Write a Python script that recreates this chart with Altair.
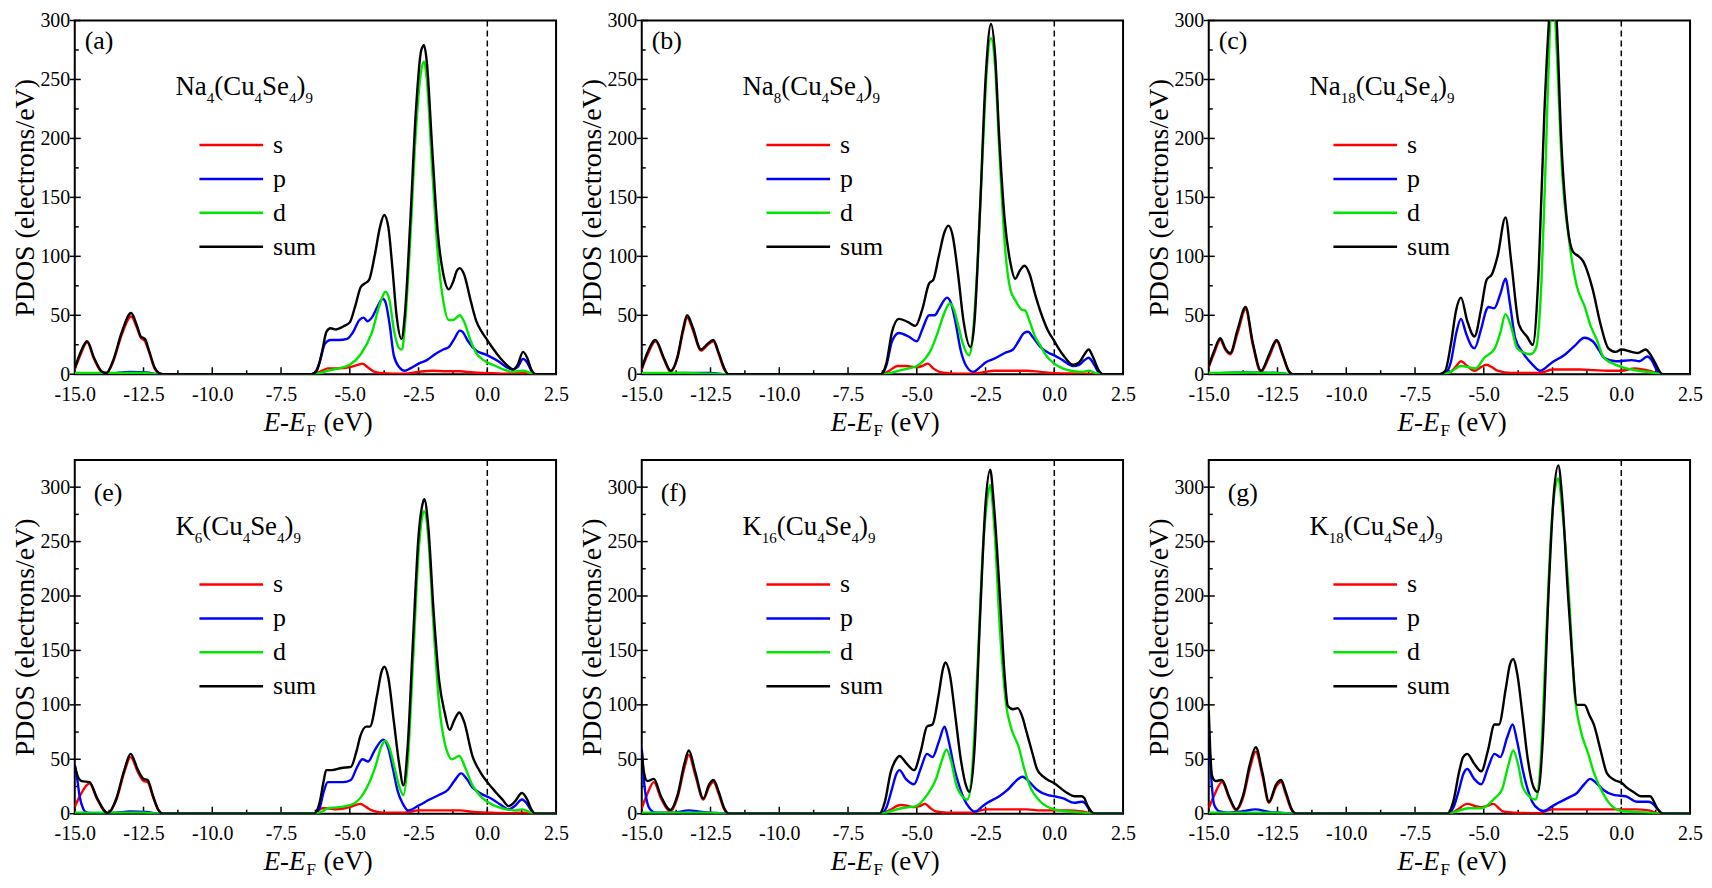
import altair as alt
import pandas as pd

FONT = "Liberation Serif"
ORBITALS = ["s", "p", "d", "sum"]
COLORS = ["#ff0000", "#0000ff", "#00e600", "#000000"]
X_TICKS = [-15.0, -12.5, -10.0, -7.5, -5.0, -2.5, 0.0, 2.5]
X_MINOR = [-13.75, -11.25, -8.75, -6.25, -3.75, -1.25, 1.25]
Y_TICKS = [0, 50, 100, 150, 200, 250, 300]
Y_MINOR = [25, 75, 125, 175, 225, 275]
Y_MAX_TOP = 300
Y_MAX_BOTTOM = 325
LABELS = ["(a)", "(b)", "(c)", "(e)", "(f)", "(g)"]
FORMULAS = [
    [("Na", "4"), ("(Cu", "4"), ("Se", "4"), (")", "9")],
    [("Na", "8"), ("(Cu", "4"), ("Se", "4"), (")", "9")],
    [("Na", "18"), ("(Cu", "4"), ("Se", "4"), (")", "9")],
    [("K", "6"), ("(Cu", "4"), ("Se", "4"), (")", "9")],
    [("K", "16"), ("(Cu", "4"), ("Se", "4"), (")", "9")],
    [("K", "18"), ("(Cu", "4"), ("Se", "4"), (")", "9")],
]

# ---------------- panel (a) Na4(Cu4Se4)9 ----------------
A_S = [(-15, 4), (-14.8, 16), (-14.55, 27), (-14.3, 13), (-14.0, 1.5), (-13.85, 1), (-13.6, 11), (-13.3, 33),
       (-12.95, 49), (-12.75, 40), (-12.6, 31), (-12.45, 28), (-12.3, 19), (-12.1, 5), (-11.9, 0.5), (-11.8, 0),
       (-6.4, 0), (-6.2, 1), (-6.0, 3), (-5.8, 5), (-5.4, 5), (-5.0, 6), (-4.7, 8), (-4.55, 9), (-4.35, 6),
       (-4.1, 2), (-3.8, 1), (-3.0, 0.5), (-2.5, 2), (-2.0, 3), (-1.5, 2.5), (-1.0, 2.5), (-0.5, 1.5), (0.0, 1),
       (0.5, 0.5), (1.3, 1), (1.7, 0), (2.5, 0)]
A_P = [(-15, 0.5), (-13.8, 0.5), (-13.0, 2), (-12.4, 1.5), (-11.9, 0), (-6.4, 0), (-6.3, 0.5), (-6.1, 10),
       (-5.9, 26), (-5.7, 29), (-5.4, 29), (-5.1, 30), (-4.9, 35), (-4.65, 46), (-4.5, 48), (-4.35, 45),
       (-4.2, 48), (-4.0, 57), (-3.8, 64), (-3.7, 61), (-3.55, 42), (-3.4, 16), (-3.2, 6), (-3.0, 3), (-2.8, 5),
       (-2.5, 9), (-2.2, 12), (-1.9, 17), (-1.6, 21), (-1.4, 23), (-1.2, 30), (-1.0, 37), (-0.9, 36), (-0.7, 28),
       (-0.4, 20), (-0.1, 17), (0.1, 15), (0.4, 11), (0.7, 6), (0.9, 4), (1.1, 6), (1.3, 13), (1.45, 10),
       (1.6, 3), (1.75, 0), (2.5, 0)]
A_D = [(-15, 1), (-13.5, 1), (-12.5, 1), (-11.9, 0), (-6.3, 0), (-6.0, 1.5), (-5.8, 3), (-5.4, 5), (-5.0, 8),
       (-4.6, 17), (-4.2, 35), (-3.9, 60), (-3.7, 70), (-3.55, 62), (-3.4, 38), (-3.2, 22), (-3.1, 21),
       (-3.0, 40), (-2.8, 115), (-2.6, 205), (-2.4, 258), (-2.3, 265), (-2.2, 250), (-2.0, 172), (-1.8, 102),
       (-1.6, 62), (-1.4, 46), (-1.25, 46), (-1.0, 50), (-0.85, 45), (-0.6, 28), (-0.4, 18), (-0.2, 13),
       (0.0, 10), (0.3, 7), (0.6, 4), (0.9, 2), (1.3, 3), (1.6, 1), (1.8, 0), (2.5, 0)]
A_T = [(-15, 5), (-14.8, 18), (-14.55, 28), (-14.3, 14), (-14.0, 2), (-13.85, 1), (-13.6, 12), (-13.3, 35),
       (-12.95, 52), (-12.75, 42), (-12.6, 32), (-12.45, 30), (-12.3, 20), (-12.1, 6), (-11.9, 0.5), (-11.8, 0),
       (-6.4, 0), (-6.2, 3), (-6.0, 20), (-5.85, 36), (-5.7, 39), (-5.5, 38), (-5.2, 41), (-5.0, 44), (-4.8, 58),
       (-4.6, 74), (-4.45, 77), (-4.3, 80), (-4.1, 100), (-3.9, 125), (-3.75, 135), (-3.6, 125), (-3.45, 90),
       (-3.3, 50), (-3.12, 30), (-3.0, 50), (-2.8, 130), (-2.6, 222), (-2.4, 275), (-2.3, 279), (-2.2, 265),
       (-2.0, 190), (-1.8, 120), (-1.6, 85), (-1.4, 72), (-1.25, 78), (-1.1, 88), (-1.0, 90), (-0.85, 85),
       (-0.6, 62), (-0.4, 45), (-0.2, 36), (0.0, 29), (0.2, 22), (0.5, 13), (0.8, 6), (0.95, 4), (1.1, 8),
       (1.3, 19), (1.45, 14), (1.6, 4), (1.75, 0), (2.5, 0)]

# ---------------- panel (b) Na8(Cu4Se4)9 ----------------
B_S = [(-15, 4), (-14.8, 16), (-14.5, 28), (-14.2, 13), (-13.95, 2), (-13.7, 14), (-13.5, 36), (-13.35, 48),
       (-13.15, 38), (-12.85, 20), (-12.6, 25), (-12.4, 28), (-12.2, 17), (-12.0, 4), (-11.85, 0), (-6.3, 0),
       (-6.0, 3), (-5.7, 7), (-5.4, 7), (-5.0, 6), (-4.8, 7), (-4.6, 9), (-4.4, 5), (-4.1, 1.5), (-3.5, 0.5),
       (-3.0, 0.5), (-2.5, 2), (-2.2, 3), (-1.5, 3), (-1.0, 3), (-0.5, 2), (0.0, 1), (1.0, 0.5), (1.6, 0),
       (2.5, 0)]
B_P = [(-15, 0.5), (-13.5, 1), (-12.5, 1), (-11.9, 0), (-6.3, 0), (-6.1, 8), (-5.9, 28), (-5.65, 35),
       (-5.3, 32), (-5.0, 28), (-4.8, 38), (-4.55, 50), (-4.35, 50), (-4.2, 55), (-4.0, 63), (-3.9, 65),
       (-3.75, 60), (-3.6, 45), (-3.4, 20), (-3.2, 7), (-2.95, 2), (-2.7, 6), (-2.5, 10), (-2.2, 13), (-1.8, 18),
       (-1.5, 21), (-1.3, 28), (-1.1, 35), (-0.95, 36), (-0.8, 32), (-0.5, 23), (-0.2, 18), (0.0, 16), (0.3, 12),
       (0.69, 7), (0.9, 8), (1.1, 12), (1.25, 14), (1.4, 10), (1.6, 2), (1.75, 0), (2.5, 0)]
B_D = [(-15, 1), (-13.5, 1), (-12.5, 0.5), (-11.9, 0), (-6.3, 0), (-6.0, 1), (-5.65, 3), (-5.3, 5), (-5.0, 7),
       (-4.7, 13), (-4.5, 20), (-4.2, 38), (-4.0, 52), (-3.8, 60), (-3.65, 55), (-3.5, 42), (-3.3, 24),
       (-3.1, 16), (-3.0, 25), (-2.8, 90), (-2.6, 190), (-2.45, 260), (-2.3, 285), (-2.15, 260), (-2.0, 190),
       (-1.8, 110), (-1.6, 72), (-1.4, 62), (-1.2, 55), (-1.06, 54), (-0.9, 45), (-0.7, 32), (-0.5, 24),
       (-0.3, 16), (0.0, 9), (0.3, 5), (0.6, 3), (1.0, 2), (1.25, 3), (1.5, 1), (1.7, 0), (2.5, 0)]
B_T = [(-15, 5), (-14.8, 18), (-14.5, 29), (-14.2, 14), (-13.95, 3), (-13.7, 15), (-13.5, 38), (-13.35, 50),
       (-13.15, 40), (-12.85, 21), (-12.6, 26), (-12.4, 29), (-12.2, 18), (-12.0, 5), (-11.85, 0), (-6.3, 0),
       (-6.1, 10), (-5.9, 36), (-5.65, 47), (-5.3, 44), (-5.05, 41), (-4.8, 55), (-4.55, 77), (-4.4, 80),
       (-4.2, 100), (-4.0, 120), (-3.85, 126), (-3.7, 118), (-3.5, 85), (-3.3, 45), (-3.05, 23), (-2.9, 45),
       (-2.7, 140), (-2.5, 250), (-2.3, 297), (-2.15, 270), (-2.0, 200), (-1.8, 130), (-1.6, 95), (-1.42, 81),
       (-1.25, 88), (-1.08, 92), (-0.9, 85), (-0.7, 68), (-0.5, 53), (-0.25, 38), (0.0, 28), (0.3, 17),
       (0.69, 8), (0.9, 10), (1.1, 17), (1.25, 21), (1.4, 15), (1.6, 4), (1.77, 0), (2.5, 0)]

# ---------------- panel (c) Na18(Cu4Se4)9 ----------------
C_S = [(-15, 6), (-14.8, 18), (-14.58, 29), (-14.4, 21), (-14.22, 17), (-13.95, 35), (-13.66, 55), (-13.4, 25),
       (-13.1, 2), (-12.8, 15), (-12.53, 28), (-12.3, 15), (-12.1, 3), (-11.95, 0), (-6.6, 0), (-6.2, 2),
       (-6.0, 7), (-5.83, 11), (-5.6, 7), (-5.34, 3), (-5.1, 6), (-4.9, 8), (-4.7, 6), (-4.5, 3), (-4.0, 1),
       (-3.0, 1), (-2.5, 4), (-2.0, 4), (-1.5, 4), (-1.0, 3.5), (-0.5, 3), (0.0, 3), (0.5, 5), (1.0, 3),
       (1.5, 0), (2.5, 0)]
C_P = [(-15, 0.5), (-13.6, 1.5), (-12.5, 1), (-11.95, 0), (-6.6, 0), (-6.4, 1), (-6.2, 10), (-6.0, 35),
       (-5.83, 47), (-5.65, 35), (-5.45, 24), (-5.34, 22), (-5.1, 38), (-4.9, 55), (-4.84, 57), (-4.62, 56),
       (-4.4, 68), (-4.21, 81), (-4.05, 60), (-3.86, 31), (-3.57, 18), (-3.22, 8), (-2.95, 3), (-2.52, 10),
       (-2.03, 17), (-1.7, 24), (-1.34, 31), (-1.04, 28), (-0.8, 20), (-0.63, 14), (-0.2, 11), (0.38, 12),
       (0.66, 11), (0.95, 15), (1.1, 12), (1.3, 3), (1.5, 0), (2.5, 0)]
C_D = [(-15, 1), (-13.5, 1.5), (-12.5, 1), (-11.95, 0), (-6.5, 0), (-6.2, 2), (-5.83, 7), (-5.3, 5),
       (-4.98, 14), (-4.6, 22), (-4.4, 35), (-4.21, 51), (-4.0, 40), (-3.79, 22), (-3.5, 18), (-3.3, 17),
       (-3.1, 22), (-2.9, 80), (-2.75, 180), (-2.6, 290), (-2.5, 330), (-2.4, 300), (-2.3, 250), (-2.18, 183),
       (-1.9, 114), (-1.62, 75), (-1.34, 58), (-1.1, 40), (-0.92, 31), (-0.63, 14), (-0.2, 8), (0.38, 4),
       (1.1, 1.5), (1.5, 0), (2.5, 0)]
C_T = [(-15, 7), (-14.8, 20), (-14.58, 30.5), (-14.4, 22), (-14.22, 18), (-13.95, 38), (-13.66, 57),
       (-13.4, 27), (-13.1, 3), (-12.8, 17), (-12.53, 29), (-12.3, 16), (-12.1, 3), (-11.97, 0), (-6.6, 0),
       (-6.4, 3), (-6.2, 25), (-6.0, 55), (-5.83, 65), (-5.6, 45), (-5.34, 32), (-5.1, 55), (-4.9, 80),
       (-4.7, 85), (-4.5, 100), (-4.21, 133), (-4.0, 95), (-3.72, 42), (-3.43, 32), (-3.22, 25), (-3.0, 90),
       (-2.8, 220), (-2.6, 310), (-2.48, 340), (-2.35, 300), (-2.18, 197), (-1.95, 125), (-1.76, 104),
       (-1.55, 100), (-1.39, 96), (-1.2, 85), (-1.04, 72), (-0.75, 42), (-0.47, 22), (-0.2, 19), (0.0, 21),
       (0.38, 19), (0.6, 18), (0.88, 21), (1.05, 17), (1.2, 11), (1.5, 0), (2.5, 0)]

# ---------------- panel (e) K6(Cu4Se4)9 ----------------
E_S = [(-15, 6), (-14.8, 17), (-14.46, 28), (-14.2, 14), (-13.8, 0.5), (-13.5, 12), (-13.2, 38), (-12.97, 52),
       (-12.7, 38), (-12.5, 30), (-12.35, 29), (-12.15, 15), (-11.95, 3), (-11.8, 0), (-6.3, 0), (-6.0, 5),
       (-5.8, 5), (-5.5, 4), (-5.0, 6), (-4.62, 9), (-4.4, 6), (-4.2, 3), (-3.8, 1), (-3.0, 1), (-2.5, 3),
       (-2.0, 3), (-1.5, 3), (-1.0, 3), (-0.5, 1.5), (0.0, 1), (0.7, 0.5), (1.3, 1), (1.7, 0), (2.5, 0)]
E_P = [(-15, 45), (-14.9, 30), (-14.83, 17), (-14.7, 5), (-14.63, 2), (-14.4, 0.5), (-13.5, 1), (-13.0, 2),
       (-12.4, 1.5), (-11.85, 0), (-6.3, 0), (-6.1, 5), (-5.95, 20), (-5.8, 29), (-5.5, 29), (-5.24, 29),
       (-4.96, 31), (-4.75, 42), (-4.54, 50), (-4.33, 48), (-4.1, 58), (-3.78, 68), (-3.6, 60), (-3.43, 41),
       (-3.25, 20), (-3.09, 10), (-2.88, 3), (-2.46, 8), (-2.1, 13), (-1.78, 17), (-1.43, 22), (-1.2, 30),
       (-0.95, 37), (-0.75, 32), (-0.54, 24), (-0.2, 18), (0.14, 14), (0.5, 8), (0.77, 4), (1.0, 7), (1.26, 13),
       (1.45, 9), (1.6, 3), (1.75, 0), (2.5, 0)]
E_D = [(-15, 1), (-13.5, 1), (-12.5, 1), (-11.85, 0), (-6.3, 0), (-6.0, 2), (-5.8, 5), (-5.4, 6), (-4.96, 8),
       (-4.6, 15), (-4.4, 23), (-4.06, 44), (-3.85, 62), (-3.71, 67), (-3.55, 60), (-3.36, 41), (-3.2, 25),
       (-3.05, 17), (-2.9, 45), (-2.7, 140), (-2.5, 240), (-2.35, 275), (-2.29, 278), (-2.15, 255),
       (-1.95, 170), (-1.75, 100), (-1.55, 65), (-1.43, 55), (-1.3, 50), (-1.02, 53), (-0.8, 42), (-0.54, 26),
       (-0.2, 15), (0.0, 11), (0.4, 6), (0.7, 4), (1.0, 3), (1.26, 4), (1.5, 2), (1.75, 0), (2.5, 0)]
E_T = [(-15, 44), (-14.9, 35), (-14.75, 30), (-14.46, 29), (-14.2, 15), (-13.8, 0.5), (-13.5, 13), (-13.2, 40),
       (-12.97, 55), (-12.7, 40), (-12.5, 32), (-12.35, 31), (-12.15, 16), (-11.95, 3), (-11.8, 0), (-6.3, 0),
       (-6.1, 10), (-5.95, 30), (-5.86, 40), (-5.65, 40), (-5.3, 42), (-4.96, 43), (-4.75, 58), (-4.62, 71),
       (-4.4, 80), (-4.27, 80), (-4.0, 110), (-3.85, 130), (-3.74, 135), (-3.6, 125), (-3.4, 85), (-3.2, 45),
       (-3.05, 26), (-2.9, 60), (-2.7, 160), (-2.5, 255), (-2.35, 285), (-2.29, 289), (-2.15, 265),
       (-1.95, 185), (-1.75, 122), (-1.55, 93), (-1.37, 77), (-1.2, 86), (-1.02, 93), (-0.85, 85), (-0.54, 53),
       (-0.25, 38), (0.0, 29), (0.3, 20), (0.55, 13), (0.77, 7), (1.0, 11), (1.26, 19), (1.45, 13), (1.6, 4),
       (1.74, 0), (2.5, 0)]

# ---------------- panel (f) K16(Cu4Se4)9 ----------------
F_S = [(-15, 5), (-14.8, 18), (-14.56, 29), (-14.3, 14), (-13.96, 2), (-13.7, 15), (-13.45, 42), (-13.29, 54),
       (-13.05, 35), (-12.76, 13), (-12.55, 25), (-12.39, 29), (-12.2, 18), (-12.0, 4), (-11.85, 0), (-6.3, 0),
       (-6.0, 3), (-5.6, 8), (-5.3, 7), (-5.1, 6), (-4.9, 7), (-4.7, 9), (-4.5, 5), (-4.3, 2), (-3.9, 1),
       (-3.0, 1), (-2.5, 4), (-2.0, 4), (-1.0, 4), (-0.5, 3), (0.0, 3), (0.5, 3), (1.0, 2), (1.4, 0), (2.5, 0)]
F_P = [(-15, 60), (-14.95, 40), (-14.9, 25), (-14.8, 10), (-14.7, 4), (-14.5, 1), (-13.8, 1), (-13.3, 3),
       (-12.8, 1.5), (-12.5, 1), (-11.9, 0), (-6.3, 0), (-6.1, 6), (-5.9, 23), (-5.75, 36), (-5.63, 40),
       (-5.4, 32), (-5.1, 27), (-4.85, 42), (-4.63, 55), (-4.43, 52), (-4.2, 66), (-3.99, 80), (-3.85, 68),
       (-3.63, 41), (-3.45, 25), (-3.29, 14), (-3.1, 6), (-2.89, 2), (-2.6, 7), (-2.43, 10), (-2.0, 16),
       (-1.69, 22), (-1.4, 30), (-1.16, 34), (-0.9, 29), (-0.63, 22), (-0.23, 17), (0.0, 16), (0.33, 14),
       (0.73, 10), (1.0, 11), (1.1, 10), (1.27, 4), (1.47, 0), (2.5, 0)]
F_D = [(-15, 1), (-13.5, 1), (-12.5, 1), (-11.9, 0), (-6.3, 0), (-6.0, 2), (-5.56, 5), (-5.03, 7), (-4.63, 17),
       (-4.3, 32), (-4.1, 48), (-3.92, 59), (-3.75, 48), (-3.56, 26), (-3.35, 16), (-3.16, 13), (-3.0, 35),
       (-2.8, 130), (-2.6, 240), (-2.4, 295), (-2.33, 302), (-2.2, 270), (-1.96, 162), (-1.75, 100),
       (-1.56, 78), (-1.29, 61), (-1.1, 42), (-0.9, 26), (-0.5, 11), (0.0, 4), (0.5, 2), (1.0, 1), (1.5, 0),
       (2.5, 0)]
F_T = [(-15, 58), (-14.92, 38), (-14.8, 30), (-14.56, 32), (-14.3, 16), (-13.96, 3.5), (-13.7, 17), (-13.45, 46),
       (-13.29, 58), (-13.05, 38), (-12.76, 14), (-12.55, 27), (-12.39, 31), (-12.2, 20), (-12.0, 5),
       (-11.83, 0), (-6.36, 0), (-6.15, 12), (-5.95, 38), (-5.75, 50), (-5.63, 53), (-5.4, 47), (-5.1, 40),
       (-4.85, 58), (-4.63, 80), (-4.43, 82), (-4.2, 110), (-4.05, 133), (-3.96, 139), (-3.8, 128),
       (-3.6, 90), (-3.4, 50), (-3.2, 25), (-3.09, 20), (-2.9, 60), (-2.7, 180), (-2.5, 285), (-2.33, 316),
       (-2.2, 285), (-1.96, 192), (-1.8, 125), (-1.69, 99), (-1.5, 96), (-1.33, 97), (-1.15, 88), (-1.03, 77),
       (-0.8, 56), (-0.63, 41), (-0.4, 34), (-0.23, 31), (0.0, 28), (0.25, 23), (0.47, 19), (0.73, 16),
       (1.0, 16), (1.1, 14), (1.2, 8), (1.47, 0), (2.5, 0)]

# ---------------- panel (g) K18(Cu4Se4)9 ----------------
G_S = [(-15, 5), (-14.8, 17), (-14.52, 29), (-14.25, 14), (-14.0, 3), (-13.75, 15), (-13.5, 42), (-13.29, 57),
       (-13.05, 35), (-12.81, 10), (-12.55, 25), (-12.37, 29), (-12.2, 18), (-12.0, 4), (-11.85, 0), (-6.3, 0),
       (-6.0, 3), (-5.6, 9), (-5.3, 7), (-5.1, 6), (-4.9, 7), (-4.65, 9), (-4.45, 5), (-4.3, 2), (-3.9, 1),
       (-3.0, 0.5), (-2.5, 4), (-2.0, 4), (-1.5, 4), (-1.0, 4), (-0.5, 4), (0.0, 4), (0.5, 4), (1.0, 3),
       (1.4, 0), (2.5, 0)]
G_P = [(-15, 78), (-14.95, 50), (-14.9, 30), (-14.8, 8), (-14.6, 2), (-14.3, 1), (-13.8, 2), (-13.3, 4),
       (-12.8, 1.5), (-12.4, 1), (-11.9, 0), (-6.3, 0), (-6.1, 6), (-5.9, 22), (-5.75, 36), (-5.6, 41),
       (-5.35, 32), (-5.09, 27), (-4.85, 42), (-4.61, 55), (-4.4, 52), (-4.15, 70), (-3.95, 82), (-3.8, 68),
       (-3.58, 40), (-3.4, 22), (-3.24, 11), (-3.0, 4), (-2.83, 2.5), (-2.5, 7), (-2.29, 10), (-1.9, 15),
       (-1.61, 19), (-1.35, 27), (-1.13, 32), (-0.9, 28), (-0.66, 22), (-0.25, 17), (0.16, 16), (0.57, 11),
       (0.98, 11), (1.1, 10), (1.33, 4), (1.5, 0), (2.5, 0)]
G_D = [(-15, 1), (-13.5, 1), (-12.5, 1), (-11.9, 0), (-6.3, 0), (-6.0, 2), (-5.56, 5), (-5.09, 5), (-4.61, 14),
       (-4.34, 22), (-4.1, 45), (-3.93, 58), (-3.75, 45), (-3.59, 25), (-3.35, 16), (-3.11, 13), (-2.95, 40),
       (-2.75, 150), (-2.55, 260), (-2.4, 300), (-2.29, 308), (-2.15, 280), (-1.88, 191), (-1.7, 112),
       (-1.47, 76), (-1.2, 55), (-1.0, 38), (-0.79, 25), (-0.38, 8), (0.03, 2.5), (1.0, 1), (1.5, 0), (2.5, 0)]
G_T = [(-15, 95), (-14.95, 60), (-14.88, 35), (-14.75, 30), (-14.52, 31), (-14.25, 15), (-14.0, 4), (-13.75, 17),
       (-13.5, 46), (-13.29, 61), (-13.05, 38), (-12.81, 11), (-12.55, 27), (-12.37, 31), (-12.2, 20),
       (-12.0, 5), (-11.83, 0), (-6.32, 0), (-6.1, 12), (-5.9, 38), (-5.75, 52), (-5.6, 55), (-5.35, 46),
       (-5.09, 39), (-4.85, 58), (-4.61, 82), (-4.45, 82), (-4.2, 115), (-4.05, 137), (-3.93, 142),
       (-3.78, 128), (-3.58, 88), (-3.4, 50), (-3.2, 25), (-3.04, 20), (-2.85, 70), (-2.65, 200), (-2.45, 295),
       (-2.29, 320), (-2.15, 290), (-1.95, 206), (-1.8, 150), (-1.61, 100), (-1.45, 100), (-1.34, 100),
       (-1.15, 90), (-1.0, 82), (-0.75, 58), (-0.52, 37), (-0.25, 31), (0.03, 28), (0.2, 24), (0.44, 20),
       (0.71, 16), (1.05, 16), (1.15, 13), (1.26, 7), (1.53, 0), (2.5, 0)]

SERIES = [(A_S, A_P, A_D, A_T), (B_S, B_P, B_D, B_T), (C_S, C_P, C_D, C_T),
          (E_S, E_P, E_D, E_T), (F_S, F_P, F_D, F_T), (G_S, G_P, G_D, G_T)]

# ---------------- layout / style ----------------
W, H = 483, 355
ROW_GAP, COL_GAP = 86, 86
BIG, SUB, SUB_DROP = 27, 15, 8
TAG = 26
CHAR_W = {"N": .722, "a": .444, "K": .722, "(": .333, "C": .667, "u": .5, "S": .556, "e": .444, ")": .333}
ONE = pd.DataFrame({"k": [0]})


def text_width(s, fs):
    return sum(CHAR_W.get(c, .5) for c in s) * fs


def txt(t, x, y, fs, align="left", style="normal"):
    return alt.Chart(ONE).mark_text(
        text=t, font=FONT, fontSize=fs, align=align, baseline="alphabetic",
        color="black", fontStyle=style
    ).encode(x=alt.value(x), y=alt.value(y))


def panel(i):
    top_row = i < 3
    ymax = Y_MAX_TOP if top_row else Y_MAX_BOTTOM
    frames = []
    for orb, pts in zip(ORBITALS, SERIES[i]):
        frames.append(pd.DataFrame({"E": [p[0] for p in pts], "PDOS": [p[1] for p in pts], "orb": orb}))
    df = pd.concat(frames, ignore_index=True)

    xs = alt.Scale(domain=[-15, 2.5], nice=False, zero=False)
    ys = alt.Scale(domain=[0, ymax], nice=False, zero=False)
    xaxis = alt.Axis(values=X_TICKS, title=None, ticks=False, domain=False, grid=False,
                     labelFlush=False, labelOverlap=False, labelPadding=10,
                     labelFont=FONT, labelFontSize=20, labelColor="black",
                     labelExpr="(datum.value < 0 ? '-' : '') + format(abs(datum.value), '.1f')")
    yaxis = alt.Axis(values=Y_TICKS, title="PDOS (electrons/eV)", ticks=False, domain=False, grid=False,
                     labelFlush=False, labelOverlap=False, labelPadding=5, titlePadding=0,
                     labelFont=FONT, labelFontSize=20, labelColor="black",
                     titleFont=FONT, titleFontSize=28, titleFontWeight="normal", titleColor="black")

    legend = alt.Legend(orient="none", legendX=167, legendY=112, title=None,
                        symbolType="M-6.1,0H1", symbolSize=324, symbolStrokeWidth=2.5,
                        labelFont=FONT, labelFontSize=26, labelColor="black", labelOffset=6,
                        rowPadding=8, padding=0)

    lines = alt.Chart(df).mark_line(interpolate="monotone", strokeWidth=2.4, clip=True).encode(
        x=alt.X("E:Q", scale=xs, axis=xaxis),
        y=alt.Y("PDOS:Q", scale=ys, axis=yaxis),
        color=alt.Color("orb:N", scale=alt.Scale(domain=ORBITALS, range=COLORS), legend=legend),
    )
    fermi = alt.Chart(ONE).mark_rule(color="black", strokeWidth=1.5, strokeDash=[6, 4]).encode(
        x=alt.datum(0, scale=xs))

    xt = pd.DataFrame({"E": X_TICKS})
    xm = pd.DataFrame({"E": X_MINOR})
    yt = pd.DataFrame({"PDOS": Y_TICKS})
    ym = pd.DataFrame({"PDOS": Y_MINOR})
    tick_x = alt.Chart(xt).mark_rule(color="black", strokeWidth=1.5).encode(
        x=alt.X("E:Q", scale=xs, axis=xaxis), y=alt.value(H), y2=alt.value(H - 7))
    tick_xm = alt.Chart(xm).mark_rule(color="black", strokeWidth=1.5).encode(
        x=alt.X("E:Q", scale=xs, axis=xaxis), y=alt.value(H), y2=alt.value(H - 4))
    tick_y = alt.Chart(yt).mark_rule(color="black", strokeWidth=1.5).encode(
        y=alt.Y("PDOS:Q", scale=ys, axis=yaxis), x=alt.value(-5), x2=alt.value(6))
    tick_ym = alt.Chart(ym).mark_rule(color="black", strokeWidth=1.5).encode(
        y=alt.Y("PDOS:Q", scale=ys, axis=yaxis), x=alt.value(0), x2=alt.value(4))

    layers = [tick_x, tick_xm, tick_y, tick_ym, fermi, lines]

    # panel tag and formula
    lab_x, lab_y = (10, 29) if top_row else (19, 41)
    layers.append(txt(LABELS[i], lab_x, lab_y, TAG))
    fx, fy = 101, 75
    for big, sub in FORMULAS[i]:
        layers.append(txt(big, fx, fy, BIG))
        fx += text_width(big, BIG)
        layers.append(txt(sub, fx, fy + SUB_DROP, SUB))
        fx += text_width(sub, SUB)

    # x-axis title  E-E_F (eV)
    cx = W / 2
    by = H + 57
    layers.append(txt("E-E", cx - 10, by, 27, align="right", style="italic"))
    layers.append(txt("F", cx - 9, by + 5, 17))
    layers.append(txt("(eV)", cx + 8, by, 27))

    return alt.layer(*layers).properties(width=W, height=H)


panels = [panel(i) for i in range(6)]

chart = alt.concat(
    *panels, columns=3, spacing={"row": ROW_GAP, "column": COL_GAP}, bounds="flush"
).resolve_scale(
    color="independent"
).resolve_legend(
    color="independent"
).properties(
    padding={"left": 3, "top": 0, "right": 0, "bottom": 0}
).configure_view(
    stroke="black", strokeWidth=2
).configure_axis(
    labelFont=FONT, titleFont=FONT, labelFontSize=20, labelColor="black", titleColor="black"
)

chart.save("out.html", embed_options={"renderer": "svg", "actions": False})
